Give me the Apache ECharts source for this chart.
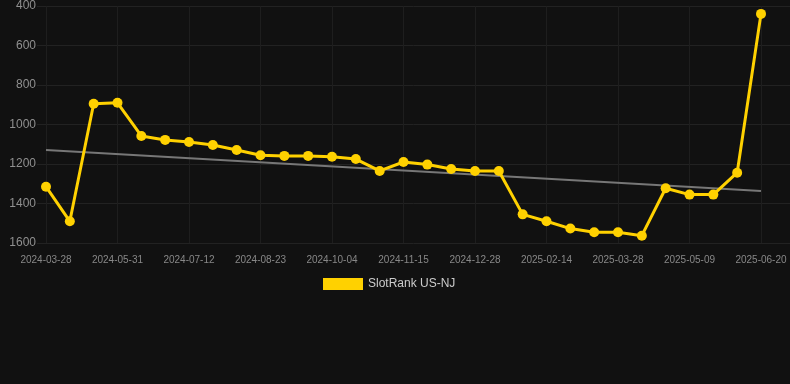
<!DOCTYPE html>
<html>
<head>
<meta charset="utf-8">
<script src="https://cdn.jsdelivr.net/npm/echarts@6/dist/echarts.min.js"></script>
<style>
html,body{margin:0;padding:0;background:#111111;}
#chart{width:790px;height:384px;}
</style>
</head>
<body>
<div id="chart"></div>
<script>
var categories = [
  '2024-03-28','2024-04-18','2024-05-09','2024-05-31','2024-06-14','2024-06-28',
  '2024-07-12','2024-07-26','2024-08-09','2024-08-23','2024-09-06','2024-09-20',
  '2024-10-04','2024-10-18','2024-11-01','2024-11-15','2024-11-29','2024-12-13',
  '2024-12-28','2025-01-14','2025-01-30','2025-02-14','2025-02-28','2025-03-14',
  '2025-03-28','2025-04-11','2025-04-25','2025-05-09','2025-05-23','2025-06-06',
  '2025-06-20'
];
var rankValues = [
  1315, 1490, 895, 890, 1058, 1078, 1089, 1104, 1129, 1156, 1159, 1159,
  1163, 1175, 1235, 1190, 1203, 1225, 1235, 1235, 1455, 1490, 1527, 1546,
  1546, 1563, 1323, 1355, 1355, 1244, 440
];
var trendStart = 1129;
var trendEnd = 1337;
var yTicks = { min: 400, max: 1600, interval: 200 };
var seriesName = 'SlotRank US-NJ';

var trendData = categories.map(function (c, i) {
  if (i === 0) return trendStart;
  if (i === categories.length - 1) return trendEnd;
  return null;
});

var chart = echarts.init(document.getElementById('chart'), null, { renderer: 'canvas' });
chart.setOption({
  backgroundColor: '#111111',
  animation: false,
  grid: [
    { left: 37, right: 0, top: 6, bottom: 141 },
    { left: 46, right: 29, top: 6, bottom: 141 }
  ],
  legend: {
    data: [seriesName],
    left: 318,
    top: 273,
    itemWidth: 40,
    itemHeight: 12,
    itemGap: 10,
    icon: 'rect',
    textStyle: { color: '#cccccc', fontSize: 12, fontFamily: 'Liberation Sans, Arial, sans-serif' }
  },
  xAxis: [
    { gridIndex: 0, type: 'value', show: false, min: 0, max: 1 },
    {
      gridIndex: 1,
      type: 'category',
      data: categories,
      boundaryGap: false,
      axisLine: { show: false },
      axisTick: { show: false },
      axisLabel: {
        interval: 2,
        color: '#888888',
        fontSize: 10,
        margin: 12,
        fontFamily: 'Liberation Sans, Arial, sans-serif'
      },
      splitLine: { show: true, interval: 2, lineStyle: { color: '#1e1e1e', width: 1 } }
    }
  ],
  yAxis: [
    {
      gridIndex: 0,
      type: 'value',
      inverse: true,
      min: yTicks.min,
      max: yTicks.max,
      interval: yTicks.interval,
      axisLine: { show: false },
      axisTick: { show: false },
      axisLabel: {
        color: '#909090',
        fontSize: 12,
        margin: 1,
        formatter: function (v) { return String(v); },
        fontFamily: 'Liberation Sans, Arial, sans-serif'
      },
      splitLine: { show: true, lineStyle: { color: '#222222', width: 1 } }
    },
    {
      gridIndex: 1,
      type: 'value',
      inverse: true,
      min: yTicks.min,
      max: yTicks.max,
      interval: yTicks.interval,
      show: false
    }
  ],
  series: [
    {
      name: 'trend',
      type: 'line',
      xAxisIndex: 1,
      yAxisIndex: 1,
      data: trendData,
      connectNulls: true,
      showSymbol: false,
      silent: true,
      z: 1,
      lineStyle: { color: '#777777', width: 2 }
    },
    {
      name: seriesName,
      type: 'line',
      xAxisIndex: 1,
      yAxisIndex: 1,
      data: rankValues,
      z: 3,
      symbol: 'circle',
      symbolSize: 10,
      itemStyle: { color: '#FFD100' },
      lineStyle: { color: '#FFD100', width: 3 }
    }
  ]
});
</script>
</body>
</html>
